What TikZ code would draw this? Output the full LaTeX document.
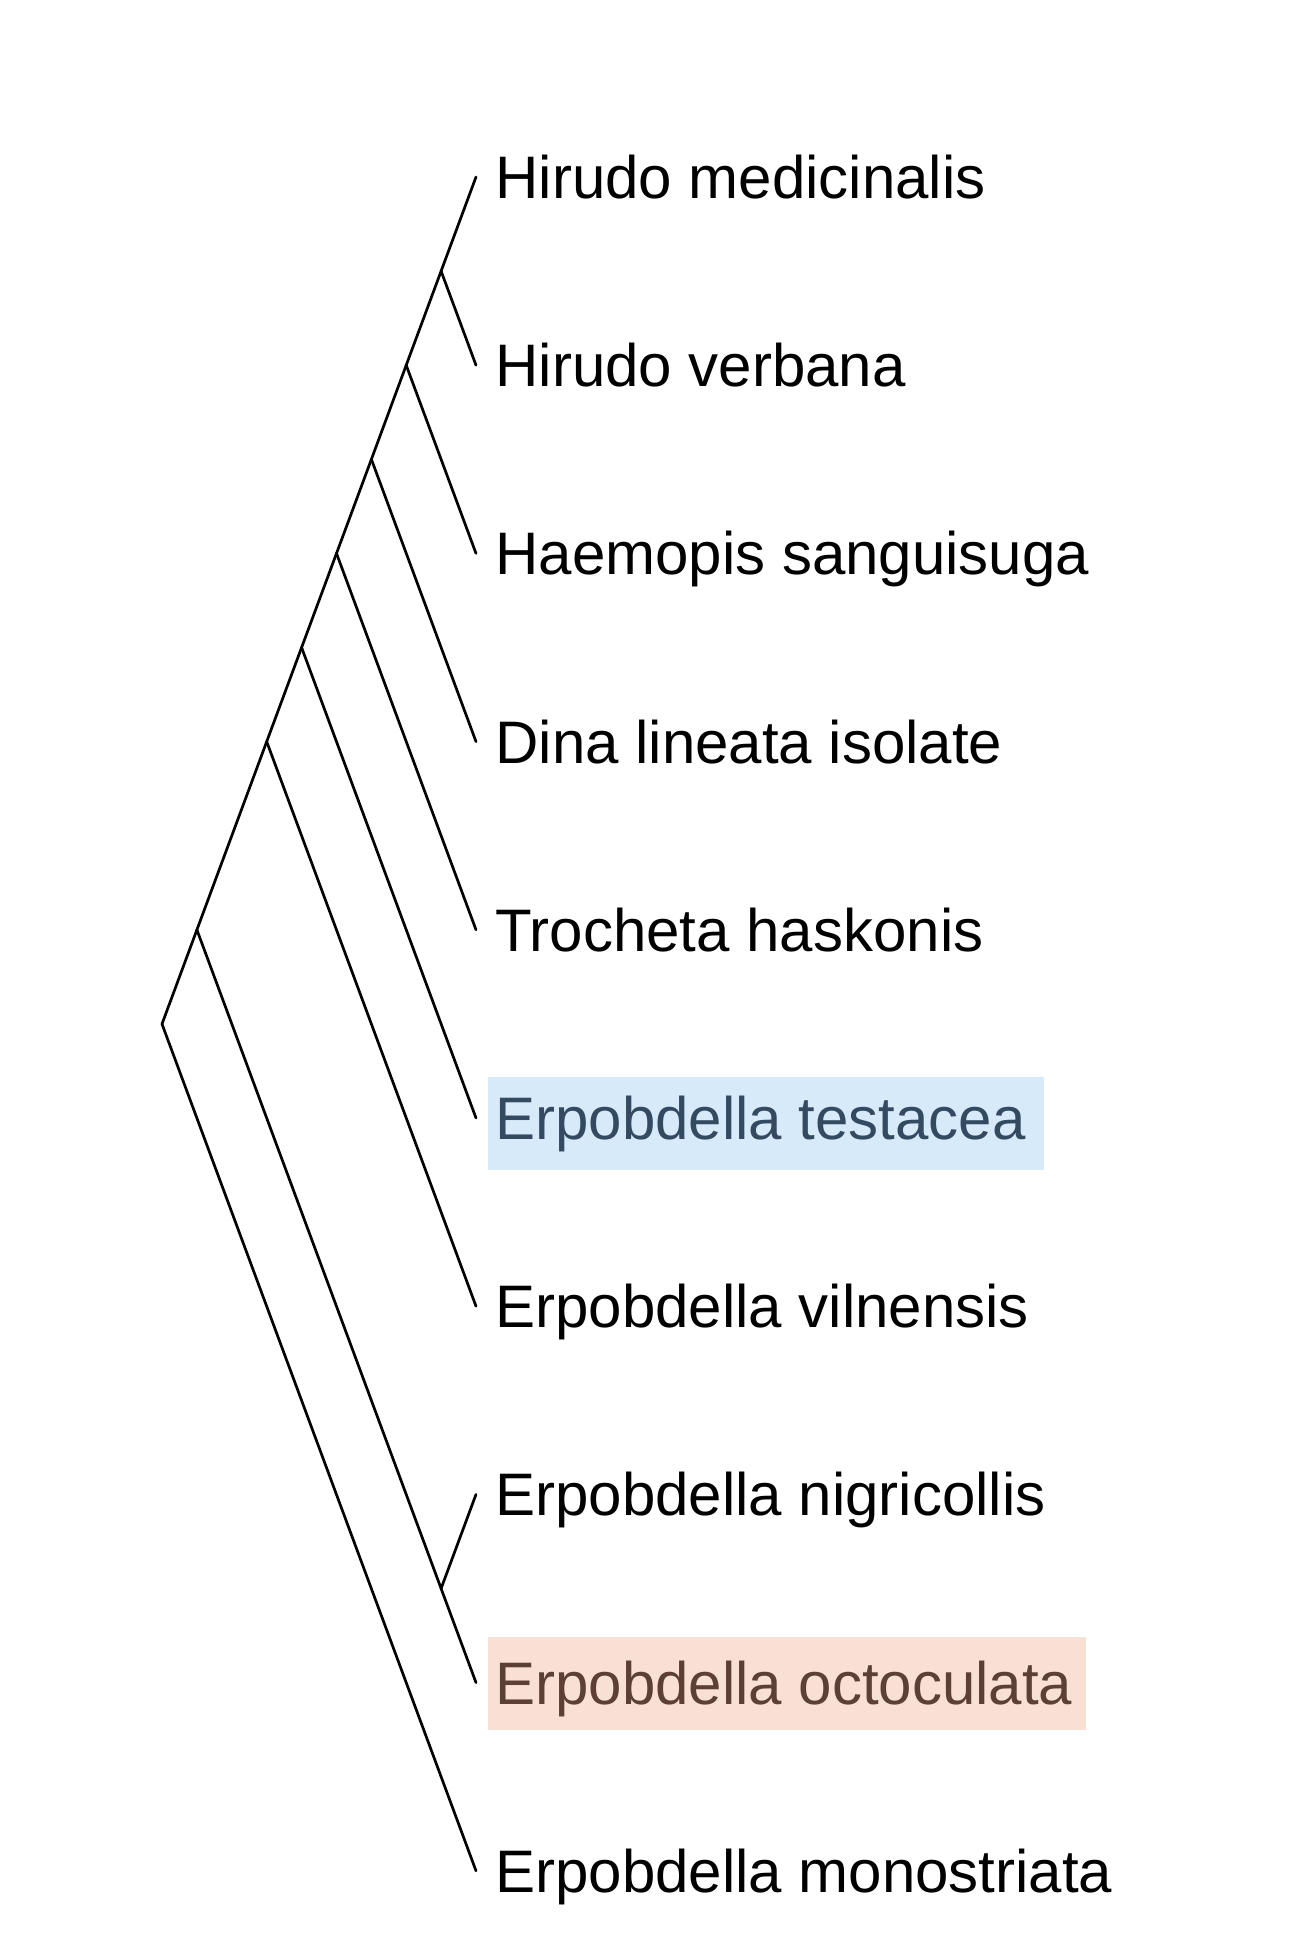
\documentclass[tikz,border=0pt]{standalone}
\usepackage{fontspec}
\setmainfont{Liberation Sans}
\definecolor{bluebg}{RGB}{214,234,249}
\definecolor{bluetx}{RGB}{52,74,96}
\definecolor{peachbg}{RGB}{249,224,212}
\definecolor{peachtx}{RGB}{92,64,54}
\tikzset{
  branch/.style={draw=black, line width=1.35pt, line cap=round, line join=round},
  leaf/.style={anchor=base west, inner sep=0pt, font=\fontsize{30pt}{36pt}\selectfont, text=black}
}
\begin{document}
\begin{tikzpicture}[x=0.5pt, y=-0.5pt]
\useasboundingbox (0,0) rectangle (1292,1934);
\fill[white] (0,0) rectangle (1292,1934);
% highlight boxes
\fill[bluebg] (488,1077) rectangle (1044,1170);
\fill[peachbg] (488,1637) rectangle (1086,1730);
% tips
\coordinate (t0) at (476,177.0);
\coordinate (t1) at (476,365.2);
\coordinate (t2) at (476,553.4);
\coordinate (t3) at (476,741.6);
\coordinate (t4) at (476,929.8);
\coordinate (t5) at (476,1118.0);
\coordinate (t6) at (476,1306.2);
\coordinate (t7) at (476,1494.4);
\coordinate (t8) at (476,1682.6);
\coordinate (t9) at (476,1870.8);
% internal nodes
\coordinate (n1) at (441.1,271.1);
\coordinate (n2) at (406.2,365.2);
\coordinate (n3) at (371.4,459.3);
\coordinate (n4) at (336.5,553.4);
\coordinate (n5) at (301.6,647.5);
\coordinate (n6) at (266.7,741.6);
\coordinate (n7) at (441.1,1588.5);
\coordinate (n8) at (196.9,929.8);
\coordinate (root) at (162,1024);
% labels
\node[leaf] (l0) at (495,198.5) {Hirudo medicinalis};
\node[leaf] (l1) at (495,386.7) {Hirudo verbana};
\node[leaf] (l2) at (495,574.9) {Haemopis sanguisuga};
\node[leaf] (l3) at (495,763.1) {Dina lineata isolate};
\node[leaf] (l4) at (495,951.3) {Trocheta haskonis};
\node[leaf, text=bluetx] (l5) at (495,1139.5) {Erpobdella testacea};
\node[leaf] (l6) at (495,1327.7) {Erpobdella vilnensis};
\node[leaf] (l7) at (495,1515.9) {Erpobdella nigricollis};
\node[leaf, text=peachtx] (l8) at (495,1704.1) {Erpobdella octoculata};
\node[leaf] (l9) at (495,1892.3) {Erpobdella monostriata};
% branches
\draw[branch] (n1) -- (t0);
\draw[branch] (n1) -- (t1);
\draw[branch] (n2) -- (n1);
\draw[branch] (n2) -- (t2);
\draw[branch] (n3) -- (n2);
\draw[branch] (n3) -- (t3);
\draw[branch] (n4) -- (n3);
\draw[branch] (n4) -- (t4);
\draw[branch] (n5) -- (n4);
\draw[branch] (n5) -- (t5);
\draw[branch] (n6) -- (n5);
\draw[branch] (n6) -- (t6);
\draw[branch] (n7) -- (t7);
\draw[branch] (n7) -- (t8);
\draw[branch] (n8) -- (n6);
\draw[branch] (n8) -- (n7);
\draw[branch] (root) -- (n8);
\draw[branch] (root) -- (t9);
\end{tikzpicture}
\end{document}
